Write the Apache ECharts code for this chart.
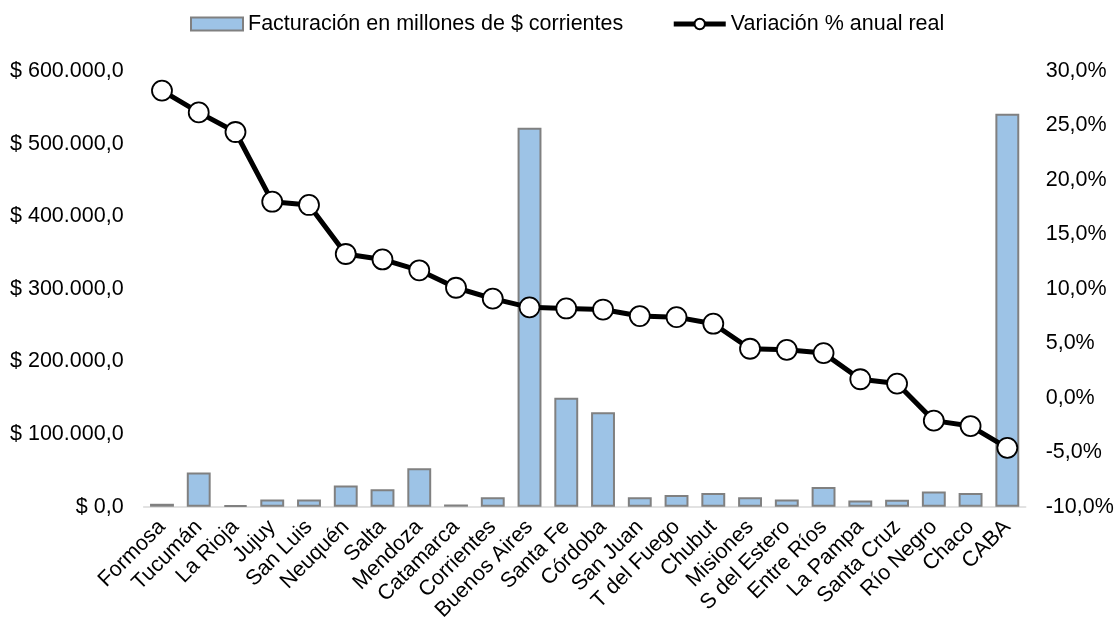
<!DOCTYPE html>
<html>
<head>
<meta charset="utf-8">
<script src="https://cdn.jsdelivr.net/npm/echarts@6/dist/echarts.min.js"></script>
<style>
  html, body { margin: 0; padding: 0; background: #fff; }
  #chart { width: 1117px; height: 624px; }
</style>
</head>
<body>
<div id="chart"></div>
<script>
const provincias = ['Formosa', 'Tucumán', 'La Rioja', 'Jujuy', 'San Luis', 'Neuquén', 'Salta', 'Mendoza',
  'Catamarca', 'Corrientes', 'Buenos Aires', 'Santa Fe', 'Córdoba', 'San Juan', 'T del Fuego', 'Chubut',
  'Misiones', 'S del Estero', 'Entre Ríos', 'La Pampa', 'Santa Cruz', 'Río Negro', 'Chaco', 'CABA']

// millones de $ corrientes
const facturacion = [4000, 47000, 2000, 10000, 10000, 29000, 24000, 53000,
  3000, 13000, 522000, 150000, 130000, 13000, 16000, 19000,
  13000, 10000, 27000, 8500, 9500, 21000, 19000, 541000]

// variación % anual real
const variacion = [28.2, 26.2, 24.4, 18.0, 17.7, 13.2, 12.7, 11.7,
  10.1, 9.1, 8.3, 8.2, 8.1, 7.5, 7.4, 6.8,
  4.5, 4.4, 4.1, 1.7, 1.3, -2.1, -2.6, -4.6]

const font = 'Liberation Sans, Arial, Helvetica, sans-serif'
const fsize = 21.5

function pesos (v) {
  const s = String(Math.round(v)).replace(/\B(?=(\d{3})+(?!\d))/g, '.')
  return '$ ' + s + ',0'
}

const option = {
  animation: false,
  grid: {
    left: 143.6,
    right: 91.3,
    top: 71,
    bottom: 116
  },
  legend: {
    top: 8,
    left: 185,
    itemWidth: 52,
    itemHeight: 13,
    itemGap: 48,
    textStyle: { fontFamily: font, fontSize: fsize, color: '#000' },
    data: [
      { name: 'Facturación en millones de $ corrientes', icon: 'rect' },
      { name: 'Variación % anual real', lineStyle: { width: 5, color: '#000' } }
    ]
  },
  xAxis: {
    type: 'category',
    data: provincias,
    axisTick: { show: false },
    axisLine: { lineStyle: { color: '#d9d9d9', width: 1.5 } },
    axisLabel: {
      interval: 0,
      rotate: 45,
      margin: 17,
      color: '#000',
      fontFamily: font,
      fontSize: fsize
    }
  },
  yAxis: [
    {
      type: 'value',
      min: 0,
      max: 600000,
      interval: 100000,
      splitLine: { show: false },
      axisLine: { show: false },
      axisTick: { show: false },
      axisLabel: {
        margin: 20,
        color: '#000',
        fontFamily: font,
        fontSize: fsize,
        formatter: pesos
      }
    },
    {
      type: 'value',
      min: -10,
      max: 30,
      interval: 5,
      splitLine: { show: false },
      axisLine: { show: false },
      axisTick: { show: false },
      axisLabel: {
        margin: 20,
        color: '#000',
        fontFamily: font,
        fontSize: fsize,
        formatter: function (v) {
          return v.toFixed(1).replace('.', ',') + '%'
        }
      }
    }
  ],
  series: [
    {
      name: 'Facturación en millones de $ corrientes',
      type: 'bar',
      yAxisIndex: 0,
      barCategoryGap: '35%',
      itemStyle: {
        color: '#9dc3e6',
        borderColor: '#808080',
        borderWidth: 2
      },
      data: facturacion
    },
    {
      name: 'Variación % anual real',
      type: 'line',
      yAxisIndex: 1,
      symbol: 'circle',
      symbolSize: 20,
      lineStyle: { color: '#000', width: 5 },
      itemStyle: { color: '#fff', borderColor: '#000', borderWidth: 1.8 },
      data: variacion
    }
  ]
}

const myChart = echarts.init(document.getElementById('chart'), null, { renderer: 'canvas' })
myChart.setOption(option)
</script>
</body>
</html>
